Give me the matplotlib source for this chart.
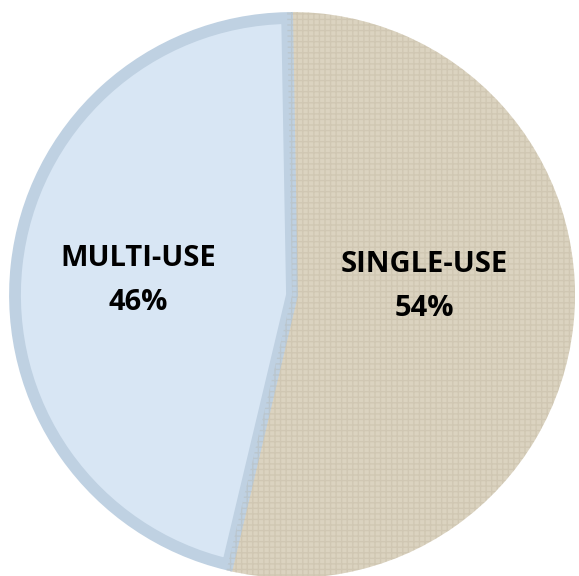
import matplotlib
matplotlib.use("Agg")
import matplotlib.pyplot as plt
import matplotlib.patches as mpatches

categories = ["SINGLE-USE", "MULTI-USE"]
shares = [54, 46]
fill_colors = ["#DBD3C0", "#D8E6F4"]
rim_blue = "#BFD1E2"

fig = plt.figure(figsize=(5.79, 5.76), dpi=100)
ax = fig.add_axes([0, 0, 1, 1])

cx, cy, r = 292, 576 - 295, 283
wedges, _ = ax.pie(shares, startangle=91, counterclock=False,
                   center=(cx, cy), radius=r, frame=True,
                   colors=fill_colors,
                   wedgeprops=dict(linewidth=0))
w0, w1 = wedges
# fabric-like texture on the single-use wedge
ax.add_patch(mpatches.Wedge((cx, cy), r, w0.theta1, w0.theta2, facecolor="none",
                            edgecolor="#A89B80", hatch="+++", linewidth=0, alpha=0.2))
# blue rim band on the multi-use wedge
w1.set_radius(r - 6)
w1.set_edgecolor(rim_blue)
w1.set_linewidth(8.5)
w1.set_joinstyle("miter")

ax.set_xlim(0, 579)
ax.set_ylim(0, 576)
ax.set_aspect("equal")
ax.axis("off")

font = dict(family=["Open Sans", "DejaVu Sans"], fontweight="bold", fontsize=21,
            color="black", ha="center", va="center")
ax.text(424, 576 - 265, categories[0], **font)
ax.text(424, 576 - 309, f"{shares[0]}%", **font)
ax.text(138, 576 - 258, categories[1], **font)
ax.text(138, 576 - 302, f"{shares[1]}%", **font)

fig.savefig("out.png", dpi=100)
